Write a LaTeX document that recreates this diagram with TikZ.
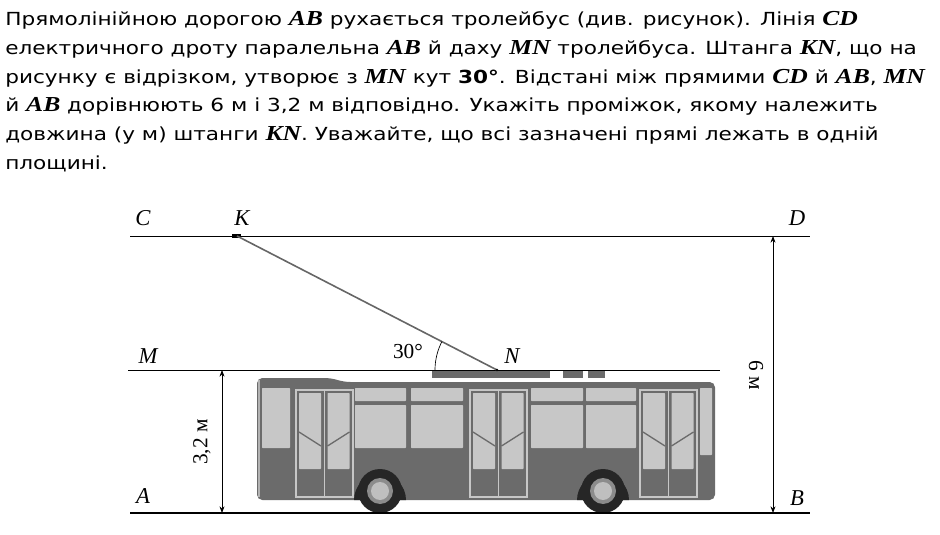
\documentclass[tikz,border=0pt]{standalone}
\usepackage{fontspec}
\setmainfont{DejaVu Sans}
\newfontfamily\mf{Liberation Serif}
\usetikzlibrary{arrows.meta}
\newcommand{\mv}[1]{{\mf\bfseries\itshape\fontsize{16}{16}\selectfont #1}}
\begin{document}
\begin{tikzpicture}[x=0.75pt,y=-0.75pt,
  txt/.style={anchor=west,inner sep=0pt,xscale=1.2,font=\fontsize{13.5}{15}\selectfont},
  lbl/.style={inner sep=0pt,font=\mf\itshape\fontsize{17}{17}\selectfont},
  dim/.style={{Stealth[length=5pt]}-{Stealth[length=5pt]},line width=0.6pt},
  win/.style={fill=black!22,rounded corners=0.5pt},
  door/.style={draw=black!22,line width=0.8pt}]
\useasboundingbox (0,0) rectangle (940,535);
\node[txt] (t1) at (5,20) {Прямолінійною дорогою \mv{AB} рухається тролейбус (див. рисунок). Лінія \mv{CD}};
\node[txt] (t2) at (5,49) {електричного дроту паралельна \mv{AB} й даху \mv{MN} тролейбуса. Штанга \mv{KN}, що на};
\node[txt] (t3) at (5,78) {рисунку є відрізком, утворює з \mv{MN} кут \textbf{30°}. Відстані між прямими \mv{CD} й \mv{AB}, \mv{MN}};
\node[txt] (t4) at (5,106) {й \mv{AB} дорівнюють 6 м і 3,2 м відповідно. Укажіть проміжок, якому належить};
\node[txt] (t5) at (5,135) {довжина (у м) штанги \mv{KN}. Уважайте, що всі зазначені прямі лежать в одній};
\node[txt] (t6) at (5,164) {площині.};
% lines
\coordinate (C0) at (130,236); \coordinate (D0) at (810,236);
\coordinate (M0) at (128,370); \coordinate (N0) at (720,370);
\coordinate (A0) at (130,513); \coordinate (B0) at (810,513);
% bus body
\fill[black!58,rounded corners=4pt] (257,378) -- (330,378) -- (345,382) -- (715,382) -- (715,500) -- (257,500) -- cycle;
\fill[black!58] (432,370) rectangle (550,378);
\fill[black!58] (563,371) rectangle (583,378);
\fill[black!58] (588,371) rectangle (605,378);
\draw[black!30,line width=0.8pt] (259,380) -- (259,497);
% windows
\fill[win] (262,388) rectangle (290,448);
\fill[win] (355,388) rectangle (406,401); \fill[win] (355,405) rectangle (406,448);
\fill[win] (411,388) rectangle (463,401); \fill[win] (411,405) rectangle (463,448);
\fill[win] (531,388) rectangle (583,401); \fill[win] (531,405) rectangle (583,448);
\fill[win] (586,388) rectangle (636,401); \fill[win] (586,405) rectangle (636,448);
\fill[win] (700,388) rectangle (712,455);
\foreach \d in {296,470,640}{
  \draw[door] (\d,390) rectangle ++(57,107);
  \draw[door] (\d+28.5,390) -- ++(0,107);
  \fill[win] (\d+3,393) rectangle ++(22,76);
  \fill[win] (\d+31.5,393) rectangle ++(22,76);
  \draw[black!58,line width=1pt] (\d+3,432) -- (\d+25,446) (\d+31.5,446) -- (\d+53.5,432);
}
% wheels
\foreach \w in {380,603}{
  \fill[black!85] (\w-26,500) arc (180:360:26) -- cycle;
  \fill[black!85] (\w,491) circle (22);
  \fill[black!45] (\w,491) circle (13);
  \fill[black!25] (\w,491) circle (9);
}
\draw[line width=0.6pt] (C0) -- (D0);
\draw[line width=0.6pt] (M0) -- (N0);
\draw[line width=1.6pt] (A0) -- (B0);
\coordinate (K) at (237,236); \coordinate (N) at (497,370);
\fill (K) ++(-5,-2) rectangle ++(9,4);
\draw[black!60,line width=1.2pt] (K) -- (N);
\fill (N) circle (1.3);
\draw[line width=0.5pt] (N) ++(180:62) arc (180:207.3:62);
\node[lbl] (Cl) at (143,218) {C};
\node[lbl] (Kl) at (242,218) {K};
\node[lbl] (Dl) at (797,218) {D};
\node[lbl] (Ml) at (148,356) {M};
\node[lbl] (Nl) at (512,356) {N};
\node[lbl] (Al) at (143,496) {A};
\node[lbl] (Bl) at (797,498) {B};
\node[inner sep=0pt,font=\mf\fontsize{16}{16}\selectfont] (ang) at (408,352) {30°};
\coordinate (d1t) at (222,370); \coordinate (d1b) at (222,513);
\draw[dim] (d1t) -- (d1b);
\node[inner sep=0pt,rotate=90,font=\mf\fontsize{16}{16}\selectfont] (l32) at (202,442) {3,2 м};
\coordinate (d2t) at (773,236); \coordinate (d2b) at (773,513);
\draw[dim] (d2t) -- (d2b);
\node[inner sep=0pt,rotate=-90,font=\mf\fontsize{16}{16}\selectfont] (l6) at (756,375) {6 м};
\end{tikzpicture}
\end{document}
